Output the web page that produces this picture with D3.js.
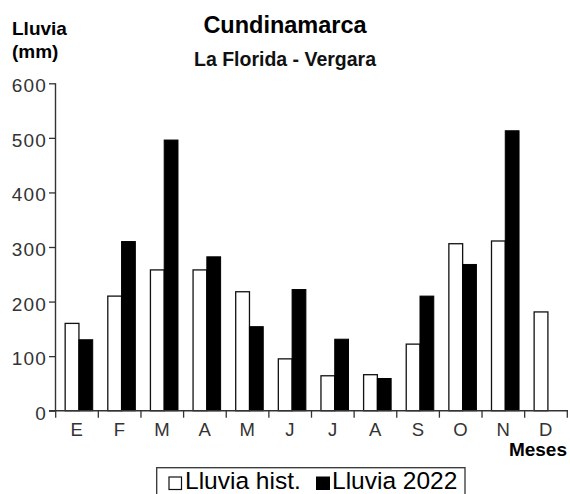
<!DOCTYPE html>
<html>
<head>
<meta charset="utf-8">
<script src="https://cdn.jsdelivr.net/npm/d3@7"></script>
<style>
  html, body { margin: 0; padding: 0; background: #fff; }
  svg { display: block; }
  text { font-family: "Liberation Sans", Arial, sans-serif; }
</style>
</head>
<body>
<svg id="chart" width="570" height="494"></svg>
<script>
const months = ["E","F","M","A","M","J","J","A","S","O","N","D"];
const monthKeys = months.map((m, i) => m + i);
const lluviaHist = [160, 210, 258, 258, 218, 95, 64, 66, 122, 306, 311, 181];
const lluvia2022 = [130, 310, 496, 282, 154, 222, 131, 59, 210, 268, 513, null];
const yTicks = [0, 100, 200, 300, 400, 500, 600];
const seriesNames = ["Lluvia hist.", "Lluvia 2022"];
const title = "Cundinamarca";
const subtitle = "La Florida - Vergara";

const svg = d3.select("#chart");
const axisColor = "#333";

const x0 = d3.scaleBand().domain(monthKeys).range([55.7, 567.3]).paddingInner(0).paddingOuter(0);
const bw = x0.bandwidth();
const x1 = d3.scaleBand().domain(["hist", "y2022"]).range([bw * 0.222, bw * 0.868]).padding(0);
const y = d3.scaleLinear().domain([0, 600]).range([410.7, 83.3]);

// titles
svg.append("text").attr("x", 285).attr("y", 33).attr("text-anchor", "middle")
  .attr("font-size", 23.5).attr("font-weight", "bold").attr("fill", "#000").text(title);
svg.append("text").attr("x", 285).attr("y", 66).attr("text-anchor", "middle")
  .attr("font-size", 19.5).attr("font-weight", "bold").attr("fill", "#111").text(subtitle);
svg.append("text").attr("x", 12).attr("y", 35)
  .attr("font-size", 19).attr("font-weight", "bold").attr("fill", "#000").text("Lluvia");
svg.append("text").attr("x", 12).attr("y", 58)
  .attr("font-size", 19).attr("font-weight", "bold").attr("fill", "#000").text("(mm)");

// bars
const g = svg.append("g");
monthKeys.forEach((k, i) => {
  const gx = x0(k);
  if (lluviaHist[i] != null) {
    g.append("rect")
      .attr("x", gx + x1("hist")).attr("y", y(lluviaHist[i]))
      .attr("width", x1.bandwidth()).attr("height", y(0) - y(lluviaHist[i]))
      .attr("fill", "#fff").attr("stroke", "#111").attr("stroke-width", 1.3);
  }
  if (lluvia2022[i] != null) {
    g.append("rect")
      .attr("x", gx + x1("y2022")).attr("y", y(lluvia2022[i]))
      .attr("width", x1.bandwidth()).attr("height", y(0) - y(lluvia2022[i]))
      .attr("fill", "#000").attr("stroke", "#000").attr("stroke-width", 1);
  }
});

// y axis
const yAxis = svg.append("g").attr("transform", "translate(55.5,0)")
  .call(d3.axisLeft(y).tickValues(yTicks).tickSize(6.5).tickPadding(2).tickFormat(d3.format("d")));
yAxis.select(".domain").attr("stroke", axisColor).attr("stroke-width", 1.4).attr("d", `M0,${y(600)}V${y(0)}`);
yAxis.selectAll(".tick line").attr("stroke", axisColor).attr("stroke-width", 1.3);
yAxis.selectAll(".tick text").attr("font-size", 19).attr("fill", "#333")
  .attr("letter-spacing", 1.2).attr("dy", "0.45em")
  .attr("font-family", "Liberation Sans, Arial, sans-serif");

// x axis baseline and tick marks at band edges
const xg = svg.append("g");
xg.append("line").attr("x1", 49).attr("x2", x0.range()[1] + 0.7)
  .attr("y1", y(0)).attr("y2", y(0)).attr("stroke", axisColor).attr("stroke-width", 1.4);
const edges = monthKeys.map(k => x0(k)).concat([x0.range()[1]]);
xg.selectAll("line.tk").data(edges).join("line").attr("class", "tk")
  .attr("x1", d => d).attr("x2", d => d)
  .attr("y1", y(0)).attr("y2", y(0) + 7)
  .attr("stroke", axisColor).attr("stroke-width", 1.3);
xg.selectAll("text.mlab").data(monthKeys).join("text").attr("class", "mlab")
  .attr("x", d => x0(d) + bw / 2).attr("y", 435.7)
  .attr("text-anchor", "middle").attr("font-size", 18.5).attr("fill", "#333")
  .attr("letter-spacing", 0.5)
  .text((d, i) => months[i]);
svg.append("text").attr("x", 567).attr("y", 456).attr("text-anchor", "end")
  .attr("font-size", 19).attr("font-weight", "bold").attr("fill", "#000").text("Meses");

// legend
const lg = svg.append("g");
lg.append("rect").attr("x", 156.7).attr("y", 467.7).attr("width", 308.3).attr("height", 40)
  .attr("fill", "#fff").attr("stroke", "#333").attr("stroke-width", 1.3);
lg.append("rect").attr("x", 169).attr("y", 477).attr("width", 12.5).attr("height", 12.5)
  .attr("fill", "#fff").attr("stroke", "#111").attr("stroke-width", 1.2);
lg.append("text").attr("x", 185).attr("y", 489).attr("font-size", 24.5).attr("fill", "#000").text(seriesNames[0]);
lg.append("rect").attr("x", 316).attr("y", 476.5).attr("width", 14).attr("height", 13.5)
  .attr("fill", "#000");
lg.append("text").attr("x", 332).attr("y", 489).attr("font-size", 24.5).attr("fill", "#000").text(seriesNames[1]);
</script>
</body>
</html>
